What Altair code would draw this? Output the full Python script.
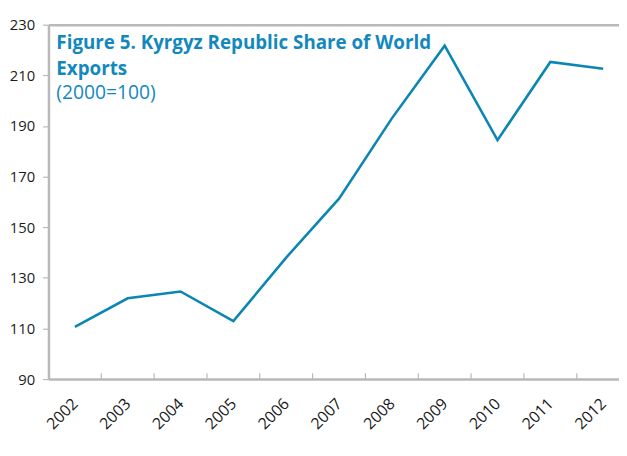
import altair as alt
import pandas as pd

years = [2002, 2003, 2004, 2005, 2006, 2007, 2008, 2009, 2010, 2011, 2012]
values = [110.6, 121.9, 124.6, 112.9, 138.0, 161.3, 193.0, 221.7, 184.4, 215.3, 212.6]
y_ticks = [90, 110, 130, 150, 170, 190, 210, 230]
title_lines = ["Figure 5. Kyrgyz Republic Share of World", "Exports"]
subtitle = "(2000=100)"

df = pd.DataFrame({"year": years, "value": values})

W, H = 578, 359
FONT = "Open Sans"
GRAY = "#b9b9b9"
BLUE = "#0b86b2"
TBLUE = "#1388bd"

# visible part of the x axis: from 2001.5 to about 2012.3 (chart is cropped at right)
xscale = alt.Scale(domain=[2001.5, 2012.3], nice=False, zero=False)
yscale = alt.Scale(domain=[90, 230], nice=False, zero=False)

line = alt.Chart(df).mark_line(color=BLUE, strokeWidth=2.6).encode(
    x=alt.X("year:Q", scale=xscale,
            axis=alt.Axis(orient="bottom", title=None, values=years, format="d", ticks=False,
                          grid=False, domain=True, domainColor=GRAY, domainWidth=2.5,
                          labelAngle=-45, labelAlign="right", labelBaseline="middle",
                          labelPadding=22, labelFont=FONT, labelFontSize=16,
                          labelColor="#1a1a1a", labelFlush=False, labelOverlap=False)),
    y=alt.Y("value:Q", scale=yscale,
            axis=alt.Axis(title=None, values=y_ticks, grid=False, domain=True,
                          domainColor=GRAY, domainWidth=2.5, tickColor=GRAY, tickSize=6,
                          tickWidth=1.2, labelPadding=8, labelFont=FONT, labelFontSize=15,
                          labelColor="#1a1a1a", labelFlush=False)),
)

ticks = alt.Chart(df).transform_calculate(b="datum.year + 0.5").mark_rule(
    color=GRAY, strokeWidth=1.2, clip=True
).encode(
    x=alt.X("b:Q", scale=xscale,
            axis=alt.Axis(orient="top", title=None, labels=False, ticks=False, grid=False,
                          domain=True, domainColor=GRAY, domainWidth=2.5)),
    y=alt.value(H - 6),
    y2=alt.value(H),
)

t1 = alt.Chart(pd.DataFrame({"t": [title_lines[0]]})).mark_text(
    align="left", baseline="alphabetic", font=FONT, fontSize=19, fontWeight="bold", color=TBLUE
).encode(text="t:N", x=alt.value(8), y=alt.value(25))

t2 = alt.Chart(pd.DataFrame({"t": [title_lines[1]]})).mark_text(
    align="left", baseline="alphabetic", font=FONT, fontSize=19, fontWeight="bold", color=TBLUE
).encode(text="t:N", x=alt.value(8), y=alt.value(51))

t3 = alt.Chart(pd.DataFrame({"t": [subtitle]})).mark_text(
    align="left", baseline="alphabetic", font=FONT, fontSize=19.5, color=TBLUE
).encode(text="t:N", x=alt.value(8), y=alt.value(75))

chart = alt.layer(line, ticks, t1, t2, t3).resolve_axis(x="independent").properties(
    width=W, height=H, autosize="none",
    padding={"left": 41, "top": 14, "right": 0, "bottom": 75},
).configure_view(strokeWidth=0)

chart.save("out.html", embed_options={"renderer": "svg", "actions": False})
